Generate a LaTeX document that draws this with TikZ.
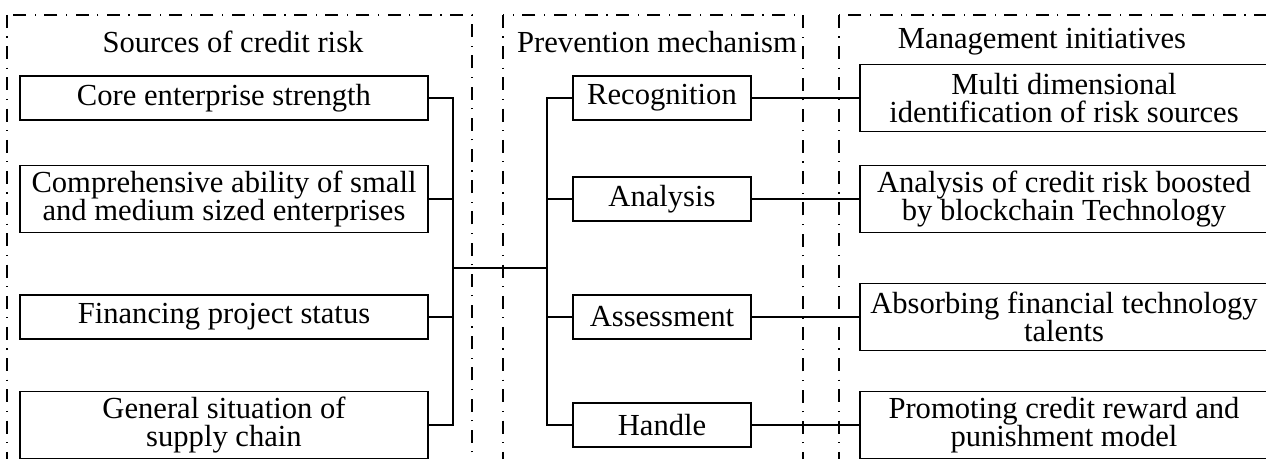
\documentclass[tikz,border=0pt]{standalone}
\usepackage{fontspec}
\setmainfont{Liberation Serif}
\usepackage{tikz}
\usetikzlibrary{calc}

\begin{document}
\begin{tikzpicture}[x=0.5pt,y=-0.5pt,
    frame/.style={line width=0.7pt,dash pattern=on 6.5pt off 4.25pt on 0.6pt off 4.25pt},
    item/.style={draw,line width=0.9pt,inner sep=0pt,align=center,font=\fontsize{15.3}{14}\selectfont},
    wide/.style={item,minimum width=204pt},
    narrow/.style={item,minimum width=89pt,minimum height=22pt},
    head/.style={font=\fontsize{15.3}{14}\selectfont},
    link/.style={line width=0.9pt}]
    \clip (0,0) rectangle (1266,459);
    % dash-dot frames
    \draw[frame] (7,15) rectangle (472,480);
    \draw[frame] (503,15) rectangle (803,480);
    \draw[frame] (839,15) rectangle (1290,480);
    \node[head] (tsrc) at (233,42) {Sources of credit risk};
    \node[head] (tprev) at (657,42) {Prevention mechanism};
    \node[head] (tman) at (1042,42) {Management initiatives};
    % sources
    \node[wide,minimum height=22pt] (s1) at (224,98) {Core enterprise strength};
    \node[wide,minimum height=33.5pt] (s2) at (224,199) {Comprehensive ability of small\\and medium sized enterprises};
    \node[wide,minimum height=22pt] (s3) at (224,317) {Financing project status};
    \node[wide,minimum height=33.5pt] (s4) at (224,425) {General situation of\\supply chain};
    % prevention
    \node[narrow] (p1) at (662,98) {Recognition};
    \node[narrow] (p2) at (662,199) {Analysis};
    \node[narrow] (p3) at (662,317) {Assessment};
    \node[narrow] (p4) at (662,425) {Handle};
    % initiatives
    \node[wide,minimum height=33.5pt] (m1) at (1064,98) {Multi dimensional\\identification of risk sources};
    \node[wide,minimum height=33.5pt] (m2) at (1064,199) {Analysis of credit risk boosted\\by blockchain Technology};
    \node[wide,minimum height=33.5pt] (m3) at (1064,317) {Absorbing financial technology\\talents};
    \node[wide,minimum height=33.5pt] (m4) at (1064,425) {Promoting credit reward and\\punishment model};
    \coordinate (lbus) at (453,268);
    \coordinate (rbus) at (547,268);
    \draw[link] (s1.east) -| (lbus);
    \draw[link] (s2.east) -| (lbus);
    \draw[link] (s3.east) -| (lbus);
    \draw[link] (s4.east) -| (lbus);
    \draw[link] (lbus) -- (rbus);
    \draw[link] (p1.west) -| (rbus);
    \draw[link] (p2.west) -| (rbus);
    \draw[link] (p3.west) -| (rbus);
    \draw[link] (p4.west) -| (rbus);
    \draw[link] (p1.east) -- (p1.east -| m1.west);
    \draw[link] (p2.east) -- (p2.east -| m2.west);
    \draw[link] (p3.east) -- (p3.east -| m3.west);
    \draw[link] (p4.east) -- (p4.east -| m4.west);
\end{tikzpicture}
\end{document}
